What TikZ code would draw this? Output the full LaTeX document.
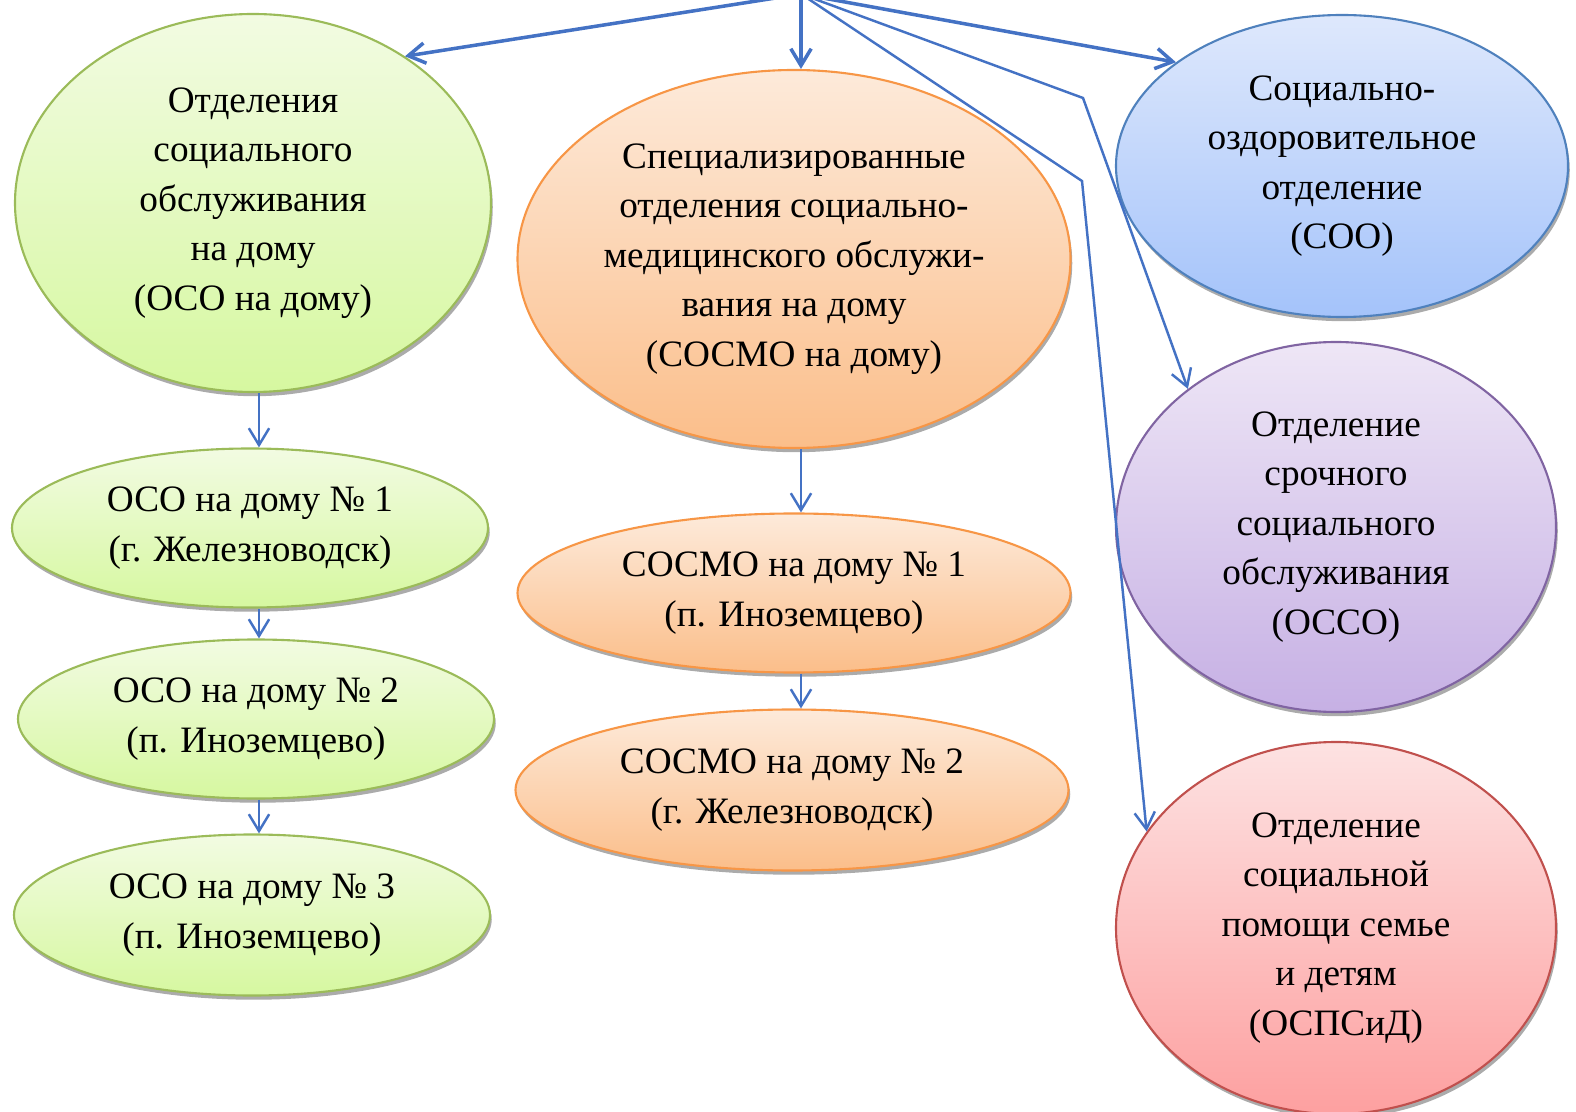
\documentclass[tikz,border=0pt]{standalone}
\usepackage{fontspec}
\setmainfont{Liberation Serif}
\usetikzlibrary{arrows.meta,shadows,shapes.geometric}

\definecolor{arrblue}{RGB}{68,114,196}
\definecolor{grnline}{RGB}{155,187,89}
\definecolor{grntop}{RGB}{242,251,226}
\definecolor{grnbot}{RGB}{214,248,160}
\definecolor{orgline}{RGB}{247,150,70}
\definecolor{orgtop}{RGB}{253,234,218}
\definecolor{orgbot}{RGB}{251,190,138}
\definecolor{blueline}{RGB}{79,129,189}
\definecolor{bluetop}{RGB}{222,232,252}
\definecolor{bluebot}{RGB}{164,195,250}
\definecolor{purline}{RGB}{128,100,162}
\definecolor{purtop}{RGB}{238,230,246}
\definecolor{purbot}{RGB}{198,176,228}
\definecolor{redline}{RGB}{192,80,77}
\definecolor{redtop}{RGB}{253,226,226}
\definecolor{redbot}{RGB}{253,160,160}

\begin{document}
\begin{tikzpicture}[
    ell/.style={ellipse, line width=0.6pt, inner sep=0pt, align=center,
        font=\fontsize{10.6}{14.1}\selectfont,
        drop shadow={shadow xshift=0.5pt, shadow yshift=-1.2pt, fill=black!55, opacity=0.6}},
    grn/.style={ell, draw=grnline, top color=grntop, bottom color=grnbot},
    org/.style={ell, draw=orgline, top color=orgtop, bottom color=orgbot},
    blu/.style={ell, draw=blueline, top color=bluetop, bottom color=bluebot},
    pur/.style={ell, draw=purline, top color=purtop, bottom color=purbot},
    rd/.style={ell, draw=redline, top color=redtop, bottom color=redbot},
    link/.style={draw=arrblue, line width=1pt, -{Straight Barb[length=4.8pt,width=5.8pt]}},
    thinlink/.style={link, line width=0.7pt}
]
    \useasboundingbox (0,0) rectangle (15.76,-11.12);

    % left column
    \node[grn, minimum width=4.76cm, minimum height=3.78cm] (oso) at (2.53,-2.03)
        {Отделения\\социального\\обслуживания\\на дому\\(ОСО на дому)};
    \node[grn, minimum width=4.76cm, minimum height=1.59cm] (oso1) at (2.50,-5.28)
        {ОСО на дому № 1\\(г. Железноводск)};
    \node[grn, minimum width=4.76cm, minimum height=1.59cm] (oso2) at (2.56,-7.19)
        {ОСО на дому № 2\\(п. Иноземцево)};
    \node[grn, minimum width=4.76cm, minimum height=1.61cm] (oso3) at (2.52,-9.15)
        {ОСО на дому № 3\\(п. Иноземцево)};

    % middle column
    \node[org, minimum width=5.53cm, minimum height=3.78cm] (sosmo) at (7.94,-2.59)
        {Специализированные\\отделения социально-\\медицинского обслужи-\\вания на дому\\(СОСМО на дому)};
    \node[org, minimum width=5.53cm, minimum height=1.59cm] (sosmo1) at (7.94,-5.93)
        {СОСМО на дому № 1\\(п. Иноземцево)};
    \node[org, minimum width=5.53cm, minimum height=1.61cm] (sosmo2) at (7.92,-7.90)
        {СОСМО на дому № 2\\(г. Железноводск)};

    % right column
    \node[blu, minimum width=4.52cm, minimum height=3.02cm] (soo) at (13.42,-1.66)
        {Социально-\\оздоровительное\\отделение\\(СОО)};
    \node[pur, minimum width=4.40cm, minimum height=3.70cm] (osso) at (13.36,-5.27)
        {Отделение\\срочного\\социального\\обслуживания\\(ОССО)};
    \node[rd, minimum width=4.40cm, minimum height=3.72cm] (ospsid) at (13.36,-9.28)
        {Отделение\\социальной\\помощи семье\\и детям\\(ОСПСиД)};

    % connectors from the top
    \coordinate (top) at (8.01,0.06);
    \coordinate (leftcol) at (2.59,0);
    \coordinate (bendA) at (10.83,-0.98);
    \coordinate (bendB) at (10.82,-1.81);
    \draw[link] (top) -- (oso.44);
    \draw[link] (top) -- (top |- sosmo.north);
    \draw[link] (top) -- (soo.148);
    \draw[thinlink] (top) -- (bendA) -- (osso.137);
    \draw[thinlink] (top) -- (bendB) -- (ospsid.153);

    % inside the columns
    \draw[thinlink] (leftcol |- oso.south) -- (leftcol |- oso1.north);
    \draw[thinlink] (leftcol |- oso1.south) -- (leftcol |- oso2.north);
    \draw[thinlink] (leftcol |- oso2.south) -- (leftcol |- oso3.north);
    \draw[thinlink] (top |- sosmo.south) -- (top |- sosmo1.north);
    \draw[thinlink] (top |- sosmo1.south) -- (top |- sosmo2.north);
\end{tikzpicture}
\end{document}
